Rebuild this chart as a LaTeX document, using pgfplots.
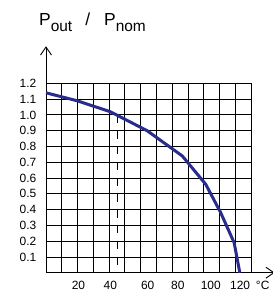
\documentclass[border=0pt]{standalone}
\usepackage{pgfplots}
\pgfplotsset{compat=1.18}
\usepackage{fontspec}
\setmainfont{Liberation Sans}
\usetikzlibrary{arrows.meta}
\definecolor{curve}{RGB}{40,44,140}
\begin{document}
\begin{tikzpicture}
\useasboundingbox (-46bp,-24.3bp) rectangle (227bp,272.7bp);
\begin{axis}[
  at={(0,0)}, anchor=origin,
  x=1.577bp, y=157.8bp,
  xmin=0, xmax=130, ymin=0, ymax=1.2,
  axis line style={draw=none},
  clip=false,
  /pgf/number format/assume math mode=true,
  xtick={20.6,40.8,64.5,83.6,104.5,123.1},
  xticklabels={20,40,60,80,100,120},
  minor xtick={10,20,...,130},
  xminorgrids=true, xmajorgrids=false,
  ytick={0.1,0.2,0.3,0.4,0.5,0.6,0.7,0.8,0.9,1.0,1.1,1.2},
  yticklabels={0.1,0.2,0.3,0.4,0.5,0.6,0.7,0.8,0.9,1.0,1.1,1.2},
  ymajorgrids=true,
  major tick length=0pt, minor tick length=0pt,
  minor grid style={black, line width=0.8bp},
  major grid style={black, line width=0.8bp},
  tick label style={font=\fontsize{12}{13}\selectfont, inner sep=0pt},
  xticklabel style={anchor=north, yshift=-8bp},
  yticklabel style={anchor=east, xshift=-9.5bp},
]
\draw[black, line width=0.8bp] (axis cs:130,0) -- (axis cs:130,1.2);
\draw[black, line width=0.8bp, dash pattern=on 8bp off 7.8bp] (axis cs:45,1.0) -- (axis cs:45,0);
\draw[black, line width=0.8bp, dash pattern=on 8bp off 7.8bp] (axis cs:2,1.0) -- (axis cs:45,1.0);
\draw[black, line width=0.9bp, -{Straight Barb[length=8bp,width=11bp]}] (axis cs:0,0) -- (axis cs:0,1.435);
\draw[black, line width=0.9bp, -{Straight Barb[length=8bp,width=11bp]}] (axis cs:0,0) -- (axis cs:145,0);
\addplot[curve, line width=3bp, line join=round] coordinates {
(0,1.14) (19.6,1.09) (40.8,1.02) (64.1,0.90) (86.4,0.74) (101.3,0.56) (110.8,0.38) (119.3,0.19) (122.9,0)
};
\node[anchor=north, inner sep=0pt, font=\fontsize{12}{13}\selectfont] at (axis cs:137.4,0) [yshift=-8bp] {°C};
\end{axis}
\node[anchor=base west, inner sep=0pt] at (-7bp,247bp) {\fontsize{17.5}{19}\selectfont P\raisebox{-5.5bp}{\fontsize{15.5}{16}\selectfont out}\hspace{13bp}/\hspace{14bp}P\raisebox{-5.5bp}{\fontsize{15.5}{16}\selectfont nom}};
\end{tikzpicture}
\end{document}
